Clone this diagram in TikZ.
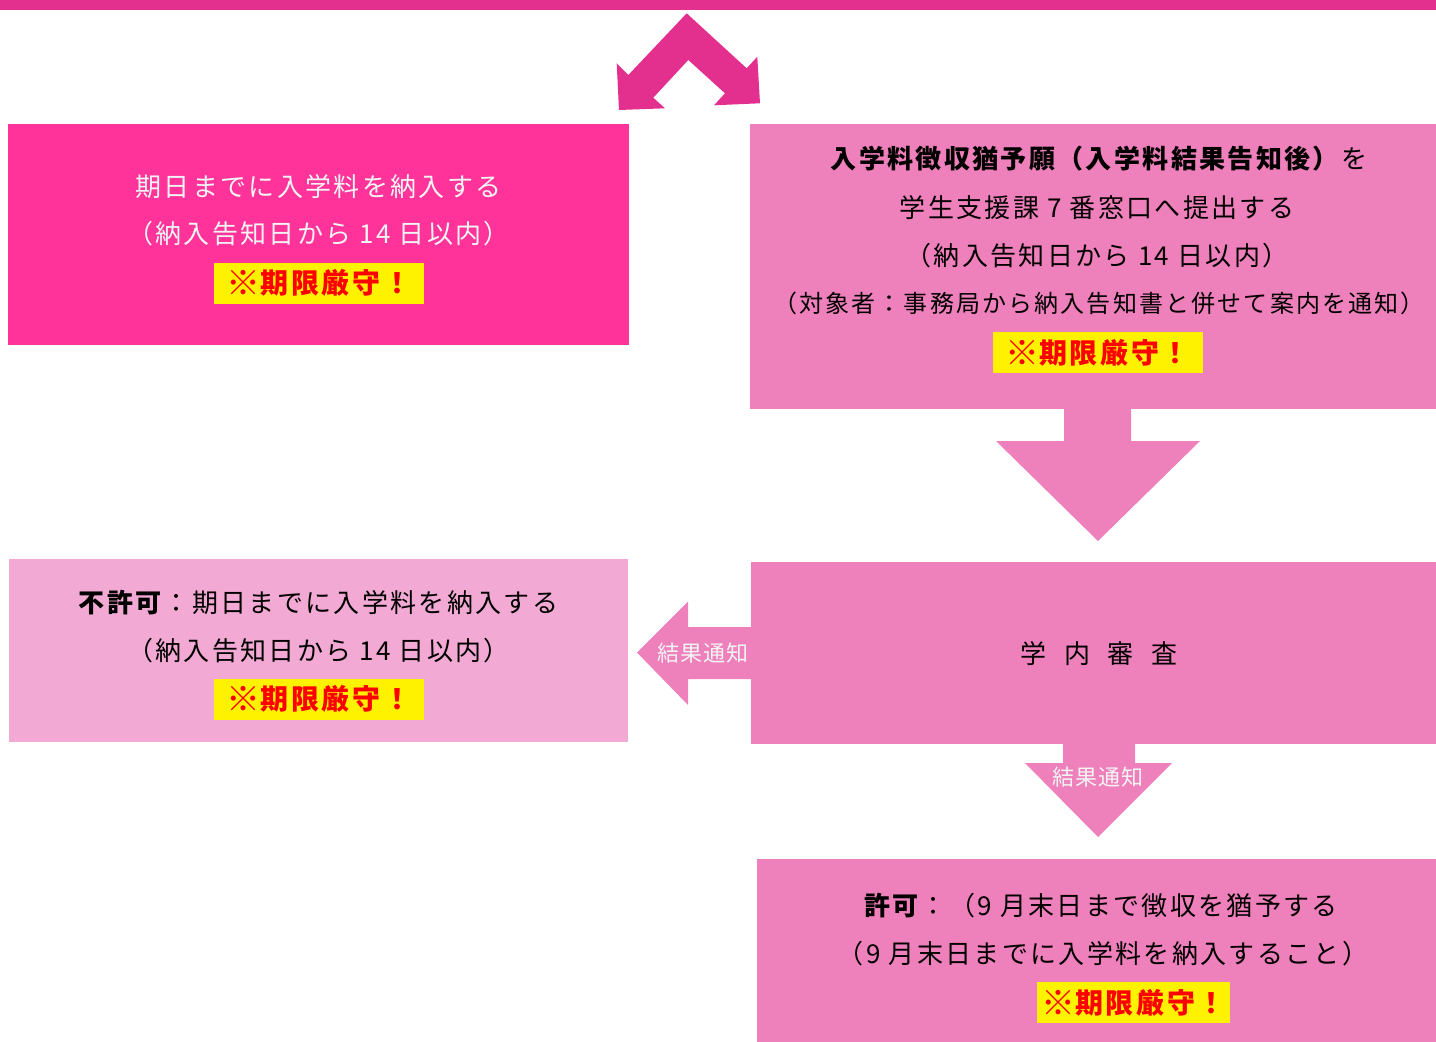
\documentclass[tikz,border=0pt]{standalone}
\usepackage{fontspec}
\setmainfont{Noto Sans CJK JP}[LetterSpace=9]
\newfontfamily\lblfont{Noto Sans CJK JP}[LetterSpace=4]
\definecolor{barc}{HTML}{E3308F}
\definecolor{boxAc}{HTML}{FF3399}
\definecolor{boxBc}{HTML}{EE80BB}
\definecolor{boxDc}{HTML}{F2AAD4}
\definecolor{wtext}{HTML}{F4F4F4}
\newcommand{\komemark}{\raisebox{-2pt}{\fontsize{34pt}{30pt}\selectfont ※}}
\tikzset{
  panel/.style={inner sep=0pt, outer sep=0pt, draw=none},
  txt/.style={inner sep=0pt, font=\fontsize{26pt}{30pt}\selectfont},
  smalltxt/.style={inner sep=0pt, font=\fontsize{24pt}{28pt}\selectfont},
  warn/.style={inner sep=0pt, fill=yellow, text=red, minimum width=210pt, minimum height=41pt,
    font=\bfseries\fontsize{28pt}{30pt}\selectfont},
  lbl/.style={inner sep=0pt, text=wtext, font=\lblfont\fontsize{22pt}{24pt}\selectfont},
}
\begin{document}
\begin{tikzpicture}[x=1pt,y=-1pt]
\useasboundingbox (0,0) rectangle (1436,1042);
% top bar
\node[panel, fill=barc, minimum width=1436pt, minimum height=10pt] (bar) at (718,5) {};
% chevron double arrow
\fill[barc] (686.7,13.3) -- (746.7,68.3) -- (757.3,56.7) -- (760,103.3) -- (714,105.3)
  -- (725,93.3) -- (688.3,60) -- (653.3,97.7) -- (665,108.3) -- (619,110)
  -- (616.7,63.3) -- (628.3,75) -- cycle;
% box A
\node[panel, fill=boxAc, minimum width=621pt, minimum height=221pt] (boxA) at (318.5,234.5) {};
\node[txt, text=wtext] (a1) at (318.5,187) {期日までに入学料を納入する};
\node[txt, text=wtext] (a2) at (318.5,234) {（納入告知日から 14 日以内）};
\node[warn] (aw) at (319,283) {\komemark 期限厳守！};
% box B
\node[panel, fill=boxBc, minimum width=686pt, minimum height=285pt] (boxB) at (1093,266.5) {};
\node[txt] (b1) at (1099,159) {\textbf{入学料徴収猶予願（入学料結果告知後）}を};
\node[txt] (b2) at (1097,208) {学生支援課 7 番窓口へ提出する};
\node[txt] (b3) at (1097,256) {（納入告知日から 14 日以内）};
\node[smalltxt] (b4) at (1099,303) {（対象者：事務局から納入告知書と併せて案内を通知）};
\node[warn] (bw) at (1097.5,352.5) {\komemark 期限厳守！};
% big down arrow B -> C
\fill[boxBc] (1064,408) -- (1131,408) -- (1131,441) -- (1200,441) -- (1098,541)
  -- (996,441) -- (1064,441) -- cycle;
% box C
\node[panel, fill=boxBc, minimum width=685pt, minimum height=182pt] (boxC) at (1093.5,653) {};
\node[txt] (c1) at (1099,654) {学\hspace{18pt}内\hspace{18pt}審\hspace{18pt}査};
% box D
\node[panel, fill=boxDc, minimum width=619pt, minimum height=183pt] (boxD) at (318.5,650.5) {};
\node[txt] (d1) at (318.5,603) {\textbf{不許可}：期日までに入学料を納入する};
\node[txt] (d2) at (318.5,651) {（納入告知日から 14 日以内）};
\node[warn] (dw) at (319,699) {\komemark 期限厳守！};
% left arrow C -> D
\fill[boxBc] (752,627) -- (688,627) -- (688,601.5) -- (637,652.5) -- (688,705)
  -- (688,679) -- (752,679) -- cycle;
\node[lbl] (l1) at (703,653) {結果通知};
% down arrow C -> E
\fill[boxBc] (1063,743) -- (1135,743) -- (1135,763) -- (1172,763) -- (1098,837)
  -- (1025,763) -- (1063,763) -- cycle;
\node[lbl] (l2) at (1098,777) {結果通知};
% box E
\node[panel, fill=boxBc, minimum width=679pt, minimum height=183pt] (boxE) at (1096.5,950.5) {};
\node[txt] (e1) at (1101,906) {\textbf{許可}：（9 月末日まで徴収を猶予する};
\node[txt] (e2) at (1103,954) {（9 月末日までに入学料を納入すること）};
\node[warn, minimum width=193pt] (ew) at (1133.5,1002.5) {\komemark 期限厳守！};
\end{tikzpicture}
\end{document}
